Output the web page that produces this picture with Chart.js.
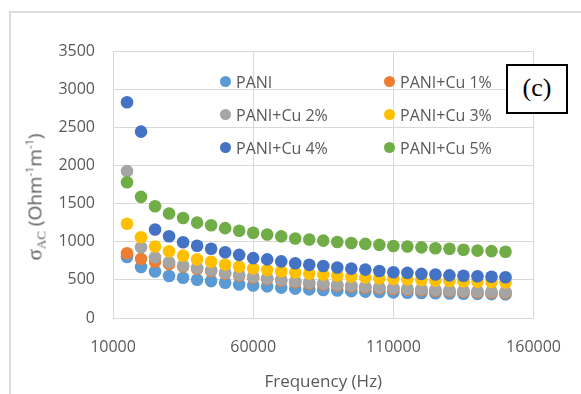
<!DOCTYPE html>
<html>
<head>
<meta charset="utf-8">
<script src="https://cdn.jsdelivr.net/npm/chart.js@4/dist/chart.umd.min.js"></script>
<style>
  html, body { margin: 0; padding: 0; background: #fff; }
  #wrap { position: relative; width: 581px; height: 394px; overflow: hidden; background: #fff; }
  #frame { position: absolute; left: 9px; top: 11px; width: 700px; height: 500px; border: 2px solid #dcdcdc; box-sizing: border-box; }
  canvas { position: absolute; left: 0; top: 0; }
  .leg { position: absolute; font-family: 'Open Sans', sans-serif; font-size: 16px; color: #595959; white-space: nowrap; line-height: 20px; }
  .leg i { position: absolute; width: 11px; height: 11px; border-radius: 50%; left: -16px; top: 4px; }
  #cbox { position: absolute; left: 506px; top: 64px; width: 62px; height: 50px; box-sizing: border-box; border: 2px solid #000; background: #fff; font-family: 'Liberation Serif', serif; font-weight: normal; font-size: 26px; color: #000; text-align: center; line-height: 44px; }
  #ytitle { position: absolute; left: 36px; top: 197px; transform: translate(-50%, -50%) rotate(-90deg); white-space: nowrap; color: #595959; font-family: 'Open Sans', sans-serif; font-size: 19px; line-height: 24px; }
  #ytitle .sg { font-family: 'Liberation Serif', serif; font-size: 21px; }
  #ytitle .sb { font-family: 'Liberation Serif', serif; font-size: 13px; position: relative; top: 4px; }
  #ytitle .sp { font-size: 11px; position: relative; top: -8px; }
</style>
</head>
<body>
<div id="wrap">
  <div id="frame"></div>
  <canvas id="c" width="581" height="394"></canvas>
  <div id="legend"></div>
  <div id="ytitle"><span class="sg">σ</span><span class="sb">AC</span> (Ohm<span class="sp">-1</span>m<span class="sp">-1</span>)</div>
  <div id="cbox">(c)</div>
</div>
<script>
const freq = [15000, 20000, 25000, 30000, 35000, 40000, 45000, 50000, 55000, 60000, 65000, 70000, 75000, 80000, 85000, 90000, 95000, 100000, 105000, 110000, 115000, 120000, 125000, 130000, 135000, 140000, 145000, 150000];
const pani = [800, 668, 610, 550, 527, 502, 484, 462, 440, 427, 414, 398, 385, 375, 367, 360, 352, 346, 341, 336, 332, 328, 325, 321, 318, 316, 313, 310];
const cu1  = [848, 775, 738, 706, 674, 643, 615, 582, 555, 529, 510, 490, 468, 453, 440, 426, 413, 400, 390, 381, 372, 364, 357, 350, 344, 338, 332, 328];
const cu2  = [1925, 928, 796, 730, 686, 655, 627, 594, 567, 541, 522, 502, 480, 465, 452, 438, 425, 412, 402, 393, 384, 376, 369, 362, 356, 350, 344, 340];
const cu3  = [1235, 1058, 937, 874, 817, 768, 737, 700, 673, 650, 630, 612, 596, 582, 569, 556, 543, 532, 522, 513, 506, 498, 491, 485, 480, 475, 470, 466];
const cu4  = [2828, 2443, 1160, 1071, 993, 948, 907, 861, 827, 785, 768, 742, 717, 697, 682, 662, 647, 634, 616, 600, 592, 579, 570, 559, 553, 548, 540, 535];
const cu5  = [1780, 1588, 1465, 1370, 1310, 1250, 1216, 1178, 1143, 1118, 1094, 1070, 1042, 1030, 1014, 997, 984, 972, 958, 944, 938, 926, 914, 907, 894, 883, 877, 868];

const seriesNames = ['PANI', 'PANI+Cu 1%', 'PANI+Cu 2%', 'PANI+Cu 3%', 'PANI+Cu 4%', 'PANI+Cu 5%'];
const seriesColors = ['#5B9BD5', '#ED7D31', '#A5A5A5', '#FFC000', '#4472C4', '#70AD47'];
const seriesValues = [pani, cu1, cu2, cu3, cu4, cu5];

const xTicks = [10000, 60000, 110000, 160000];
const yTicks = [0, 500, 1000, 1500, 2000, 2500, 3000, 3500];

const datasets = seriesValues.map((vals, i) => ({
  label: seriesNames[i],
  data: vals.map((v, j) => ({ x: freq[j], y: v })),
  backgroundColor: seriesColors[i],
  borderColor: seriesColors[i],
  borderWidth: 0,
  pointRadius: 6.3,
  pointHoverRadius: 6.3,
  showLine: false,
  order: seriesValues.length - i   // later series drawn on top
}));

const tickFont = { family: "'Open Sans', sans-serif", size: 16 };

new Chart(document.getElementById('c'), {
  type: 'scatter',
  data: { datasets },
  options: {
    responsive: false,
    devicePixelRatio: 1,
    animation: false,
    layout: { padding: { left: 0, right: 33, top: 51, bottom: 0 } },
    plugins: { legend: { display: false }, tooltip: { enabled: false } },
    scales: {
      x: {
        type: 'linear',
        min: 10000, max: 160000,
        afterBuildTicks: s => { s.ticks = xTicks.map(v => ({ value: v })); },
        afterFit: s => { s.height = 76; },
        grid: { color: '#d9d9d9', lineWidth: 1, drawTicks: false },
        border: { color: '#d9d9d9', width: 1 },
        ticks: { padding: 20, color: '#595959', font: tickFont, maxRotation: 0, autoSkip: false, callback: v => String(v) },
        title: { display: true, text: 'Frequency (Hz)', color: '#595959', font: { family: "'Open Sans', sans-serif", size: 17 }, padding: { top: 0, bottom: 2 } }
      },
      y: {
        min: 0, max: 3500,
        afterBuildTicks: s => { s.ticks = yTicks.map(v => ({ value: v })); },
        afterFit: s => { s.width = 113; },
        grid: { color: '#d9d9d9', lineWidth: 1, drawTicks: false },
        border: { color: '#d9d9d9', width: 1 },
        ticks: { padding: 18, color: '#595959', font: tickFont, callback: v => String(v) }
      }
    }
  }
});

// legend (two columns, three rows) built from series arrays
const legPos = [[236, 82], [400, 82], [236, 115], [400, 115], [236, 148], [400, 148]];
const legend = document.getElementById('legend');
seriesNames.forEach((name, i) => {
  const d = document.createElement('div');
  d.className = 'leg';
  d.style.left = legPos[i][0] + 'px';
  d.style.top = (legPos[i][1] - 10) + 'px';
  const m = document.createElement('i');
  m.style.background = seriesColors[i];
  d.appendChild(m);
  d.appendChild(document.createTextNode(name));
  legend.appendChild(d);
});
</script>
</body>
</html>
